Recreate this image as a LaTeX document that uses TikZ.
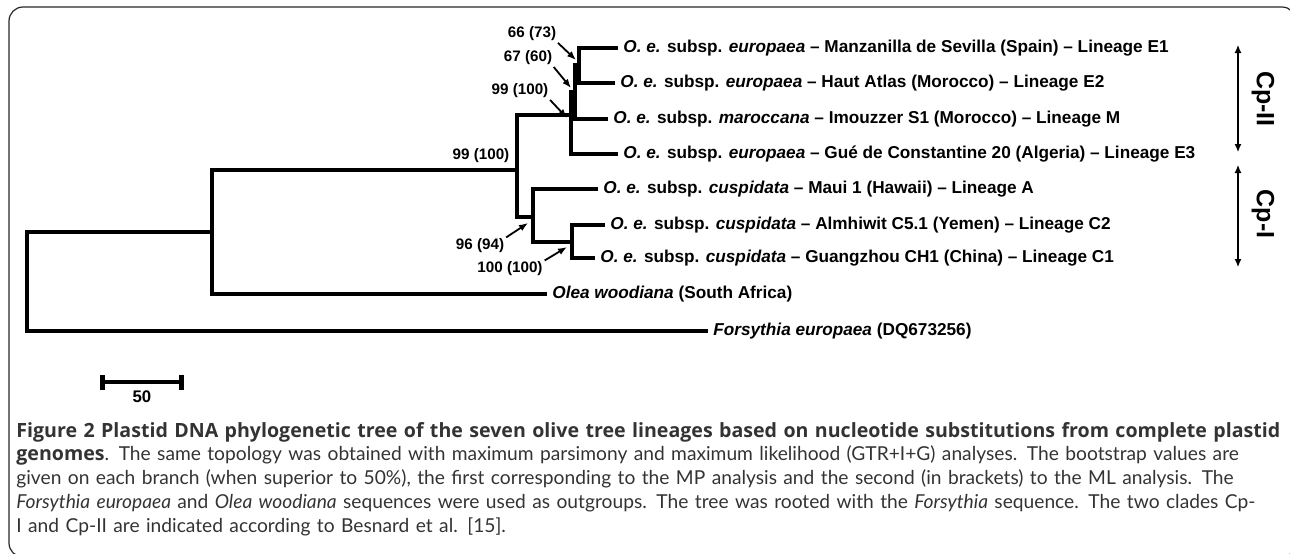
\documentclass[tikz,border=0pt]{standalone}
\usepackage{fontspec}
\setmainfont{Liberation Sans}
\newfontfamily\capfont{Lato}
\newfontfamily\capbf{Open Sans}
\usetikzlibrary{positioning,arrows.meta}

\newcommand{\subsp}[1]{\textit{O. e.} subsp. \textit{#1}}
\newcommand{\capbold}[1]{{\capbf\bfseries\fontsize{9.8}{11.9}\selectfont #1}}

\tikzset{
  branch/.style={line width=2.4pt},
  leaf/.style={anchor=west,inner sep=2.5pt,font=\fontsize{8.6}{10}\selectfont\bfseries},
  boot/.style={inner sep=0pt,font=\fontsize{7.6}{9}\selectfont\bfseries},
  pointer/.style={->,line width=0.9pt,shorten <=1pt},
  clade/.style={inner sep=0pt,rotate=-90,font=\fontsize{12.5}{14}\selectfont\bfseries},
  cladebar/.style={{Latex[length=4pt,width=3.5pt]}-{Latex[length=4pt,width=3.5pt]},line width=0.6pt},
}

\begin{document}
\begin{tikzpicture}[x=0.5pt,y=-0.5pt,>={Latex[length=4.5pt,width=3.5pt]}]
\useasboundingbox (0,0) rectangle (1290,553);
\draw[line width=0.6pt,black!85,rounded corners=7pt] (9,7) rectangle (1296,557);

% leaves
\node[leaf] (e1)   at (618,48)  {\subsp{europaea} -- Manzanilla de Sevilla (Spain) -- Lineage E1};
\node[leaf] (e2)   at (615,83)  {\subsp{europaea} -- Haut Atlas (Morocco) -- Lineage E2};
\node[leaf] (m)    at (608,119) {\subsp{maroccana} -- Imouzzer S1 (Morocco) -- Lineage M};
\node[leaf] (e3)   at (618,154) {\subsp{europaea} -- Gu\'e de Constantine 20 (Algeria) -- Lineage E3};
\node[leaf] (a)    at (598,189) {\subsp{cuspidata} -- Maui 1 (Hawaii) -- Lineage A};
\node[leaf] (c2)   at (605,225) {\subsp{cuspidata} -- Almhiwit C5.1 (Yemen) -- Lineage C2};
\node[leaf] (c1)   at (595,258) {\subsp{cuspidata} -- Guangzhou CH1 (China) -- Lineage C1};
\node[leaf] (olea) at (547,294) {\textit{Olea woodiana} (South Africa)};
\node[leaf] (fors) at (708,331) {\textit{Forsythia europaea} (DQ673256)};

% internal nodes
\coordinate (n3)    at (579,65);
\coordinate (n2)    at (575,92);
\coordinate (n1)    at (571,115);
\coordinate (cn)    at (572,242);
\coordinate (cpi)   at (533,217);
\coordinate (ing)   at (517,170);
\coordinate (onode) at (212,232);
\coordinate (root)  at (27,280);

% branches
\draw[branch] (e1.west) -| (n3) |- (e2.west);
\draw[branch] (n3) -| (n2) |- (m.west);
\draw[branch] (n2) -| (n1) |- (e3.west);
\draw[branch] (c2.west) -| (cn) |- (c1.west);
\draw[branch] (a.west) -| (cpi) |- (cn);
\draw[branch] (n1) -| (ing) |- (cpi);
\draw[branch] (ing) -| (onode) |- (olea.west);
\draw[branch] (onode) -| (root) |- (fors.west);

% bootstrap values
\node[boot] (b66)  at (532,34)  {66 (73)};
\node[boot] (b67)  at (528,58)  {67 (60)};
\node[boot] (b99a) at (520,91)  {99 (100)};
\node[boot] (b99b) at (481,156) {99 (100)};
\node[boot] (b96)  at (480,246) {96 (94)};
\node[boot] (b100) at (510,269) {100 (100)};
\coordinate (t66)  at (576,60);
\coordinate (t67)  at (571,88);
\coordinate (t99)  at (567,118);
\coordinate (t96)  at (528,223);
\coordinate (t100) at (567,247);
\draw[pointer] (b66.south east) -- (t66);
\draw[pointer] (b67.south east) -- (t67);
\draw[pointer] (b99a.south east) -- (t99);
\draw[pointer] (b96.north east) -- (t96);
\draw[pointer] (b100.north east) -- (t100);

% clades
\coordinate (cp2top) at (1238,45);
\coordinate (cp2bot) at (1238,152);
\coordinate (cp1top) at (1238,165);
\coordinate (cp1bot) at (1238,267);
\draw[cladebar] (cp2top) -- (cp2bot);
\draw[cladebar] (cp1top) -- (cp1bot);
\node[clade] (cp2) at (1263,99)  {Cp-II};
\node[clade] (cp1) at (1263,214) {Cp-I};

% scale bar
\coordinate (sb0) at (100,382);
\coordinate (sb1) at (184,382);
\draw[branch,{Bar[width=7.5pt]}-{Bar[width=7.5pt]}] (sb0) -- (sb1)
  node[midway,below=3pt,boot,font=\fontsize{8.4}{10}\selectfont\bfseries] (sbl) {50};

% caption
\node[anchor=base west,inner sep=0pt,text width=645pt,align=left,text=black!80,
      font=\capfont\fontsize{9.6}{11.9}\selectfont] (cap) at (16,437) {%
\capbold{Figure 2 Plastid DNA phylogenetic tree of the seven olive tree lineages based on nucleotide substitutions from complete plastid}\\
\capbold{genomes}. The same topology was obtained with maximum parsimony and maximum likelihood (GTR+I+G) analyses. The bootstrap values are\\
given on each branch (when superior to 50\%), the first corresponding to the MP analysis and the second (in brackets) to the ML analysis. The\\
\textit{Forsythia europaea} and \textit{Olea woodiana} sequences were used as outgroups. The tree was rooted with the \textit{Forsythia} sequence. The two clades Cp-\\
I and Cp-II are indicated according to Besnard et al. [15].};
\end{tikzpicture}
\end{document}
